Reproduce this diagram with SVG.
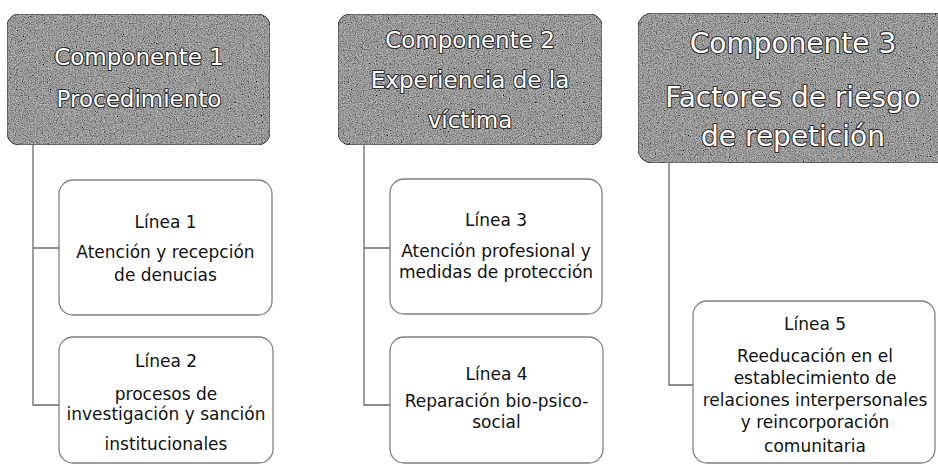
<svg xmlns="http://www.w3.org/2000/svg" width="938" height="466" viewBox="0 0 938 466">
<defs>
  <filter id="grain" x="0" y="0" width="1" height="1">
    <feTurbulence type="fractalNoise" baseFrequency="0.85" numOctaves="3" seed="7" result="noise"/>
    <feColorMatrix in="noise" type="matrix" values="0.9 0.9 0.9 0 -0.7  0.9 0.9 0.9 0 -0.7  0.9 0.9 0.9 0 -0.7  0 0 0 0 1" result="gray"/>
    <feComposite in="gray" in2="SourceGraphic" operator="in" result="clip"/>
    <feBlend in="clip" in2="SourceGraphic" mode="multiply"/>
  </filter>
  <style>
    .hdr { fill: #b8b8b8; stroke: #4a4a4a; stroke-width: 1; filter: url(#grain); }
    .htxt { font-family: "DejaVu Sans", "Liberation Sans", sans-serif; fill: #ffffff; stroke: #2e2e2e; stroke-width: 2.2; paint-order: stroke; stroke-linejoin: round; text-anchor: middle; }
    .box { fill: #ffffff; stroke: #808080; stroke-width: 1.3; }
    .btxt { font-family: "DejaVu Sans", "Liberation Sans", sans-serif; font-size: 17px; fill: #111111; text-anchor: middle; }
    .conn { fill: none; stroke: #6a6a6a; stroke-width: 1.3; }
  </style>
</defs>
<rect width="938" height="466" fill="#ffffff"/>

<g id="connectors">
  <path class="conn" d="M33 145 V405 H59 M33 248 H59"/>
  <path class="conn" d="M364 145 V405 H390 M364 248 H390"/>
  <path class="conn" d="M669 163 V385 H693"/>
</g>

<g id="componente1">
  <rect class="hdr" x="7" y="14" width="263" height="131" rx="12"/>
  <text class="htxt" font-size="23" x="139" y="65">Componente 1</text>
  <text class="htxt" font-size="23" x="139" y="107">Procedimiento</text>
</g>

<g id="componente2">
  <rect class="hdr" x="338" y="14" width="264" height="131" rx="12"/>
  <text class="htxt" font-size="23" x="470" y="48">Componente 2</text>
  <text class="htxt" font-size="23" x="470" y="88">Experiencia de la</text>
  <text class="htxt" font-size="23" x="470" y="128">víctima</text>
</g>

<g id="componente3">
  <rect class="hdr" x="638" y="13" width="312" height="150" rx="14"/>
  <text class="htxt" font-size="28" x="793" y="53">Componente 3</text>
  <text class="htxt" font-size="28" x="793" y="107">Factores de riesgo</text>
  <text class="htxt" font-size="28" x="793" y="146">de repetición</text>
</g>

<g id="linea1">
  <rect class="box" x="59" y="180" width="213" height="135" rx="14"/>
  <text class="btxt" x="165.5" y="228">Línea 1</text>
  <text class="btxt" x="165.5" y="258">Atención y recepción</text>
  <text class="btxt" x="165.5" y="281">de denucias</text>
</g>

<g id="linea2">
  <rect class="box" x="59" y="337" width="214" height="126" rx="14"/>
  <text class="btxt" x="166" y="367">Línea 2</text>
  <text class="btxt" x="166" y="400">procesos de</text>
  <text class="btxt" x="166" y="420">investigación y sanción</text>
  <text class="btxt" x="166" y="450">institucionales</text>
</g>

<g id="linea3">
  <rect class="box" x="390" y="179" width="212" height="135" rx="14"/>
  <text class="btxt" x="496" y="226">Línea 3</text>
  <text class="btxt" x="496" y="257">Atención profesional y</text>
  <text class="btxt" x="496" y="278">medidas de protección</text>
</g>

<g id="linea4">
  <rect class="box" x="390" y="337" width="213" height="126" rx="14"/>
  <text class="btxt" x="496.5" y="380">Línea 4</text>
  <text class="btxt" x="496.5" y="407">Reparación bio-psico-</text>
  <text class="btxt" x="496.5" y="428">social</text>
</g>

<g id="linea5">
  <rect class="box" x="693" y="301" width="242" height="162" rx="14"/>
  <text class="btxt" x="815" y="330">Línea 5</text>
  <text class="btxt" x="815" y="362">Reeducación en el</text>
  <text class="btxt" x="815" y="384">establecimiento de</text>
  <text class="btxt" x="815" y="406">relaciones interpersonales</text>
  <text class="btxt" x="815" y="428">y reincorporación</text>
  <text class="btxt" x="815" y="452">comunitaria</text>
</g>
</svg>
